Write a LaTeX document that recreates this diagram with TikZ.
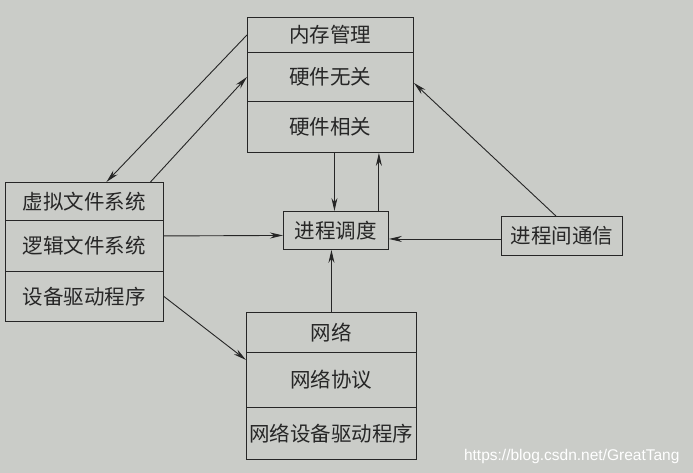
\documentclass[tikz,border=0pt]{standalone}
\usepackage{fontspec}
\setmainfont{Liberation Sans}
\newfontfamily\cjk{Noto Sans CJK SC}
\usetikzlibrary{arrows.meta}
\definecolor{paper}{RGB}{202,204,200}
\definecolor{ink}{RGB}{38,38,38}
\tikzset{
  cell/.style={draw=ink, line width=0.9pt, anchor=north west, inner sep=0pt,
    font=\cjk\fontsize{20.5}{20.5}\selectfont, text=ink},
  arr/.style={draw=ink, line width=0.9pt, -{Stealth[length=13pt,width=6pt]}}
}

\begin{document}
\begin{tikzpicture}[x=1pt,y=-1pt]
  \fill[paper] (0,0) rectangle (693,473);
  \useasboundingbox (0,0) rectangle (693,473);
  % memory management
  \node[cell, minimum width=166pt, minimum height=35pt] (mem1) at (247,17) {内存管理};
  \node[cell, minimum width=166pt, minimum height=49pt] (mem2) at (247,52) {硬件无关};
  \node[cell, minimum width=166pt, minimum height=51pt] (mem3) at (247,101) {硬件相关};
  % file systems
  \node[cell, minimum width=158pt, minimum height=38pt] (vfs1) at (5,182) {虚拟文件系统};
  \node[cell, minimum width=158pt, minimum height=51pt] (vfs2) at (5,220) {逻辑文件系统};
  \node[cell, minimum width=158pt, minimum height=50pt] (vfs3) at (5,271) {设备驱动程序};
  % scheduler and ipc
  \node[cell, minimum width=105pt, minimum height=38pt] (sched) at (283,211) {进程调度};
  \node[cell, minimum width=121pt, minimum height=39pt] (ipc) at (501,216) {进程间通信};
  % network
  \node[cell, minimum width=170pt, minimum height=40pt] (net1) at (246,312) {网络};
  \node[cell, minimum width=170pt, minimum height=55pt] (net2) at (246,352) {网络协议};
  \node[cell, minimum width=170pt, minimum height=52pt] (net3) at (246,407) {网络设备驱动程序};
  % connectors
  \draw[arr] (mem1.west) -- ([xshift=22pt]vfs1.north);
  \draw[arr] ([xshift=66pt]vfs1.north) -- (mem2.west);
  \draw[arr] ([xshift=4pt]mem3.south) -- ([xshift=4pt]mem3.south |- sched.north);
  \draw[arr] ([xshift=-10pt]sched.north east) -- ([xshift=-10pt]sched.north east |- mem3.south);
  \draw[arr] ([xshift=-6pt]ipc.north) -- ([yshift=-6pt]mem2.east);
  \draw[arr] ([yshift=-3pt]ipc.west) -- ([yshift=-3pt]ipc.west -| sched.east);
  \draw[arr] ([yshift=10pt]vfs2.east) -- ([yshift=-5pt]sched.west);
  \draw[arr] (net1.north) -- (net1.north |- sched.south);
  \draw[arr] (vfs3.east) -- ([yshift=20pt]net2.west);
  % watermark
  \node[text=white, font=\fontsize{15.5}{15.5}\selectfont, anchor=base east] (mark)
    at (683,460) {https://blog.csdn.net/GreatTang};
\end{tikzpicture}
\end{document}
